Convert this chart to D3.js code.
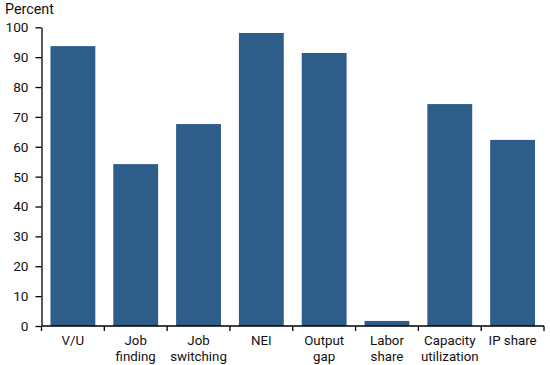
<!DOCTYPE html>
<html><head><meta charset="utf-8">
<script src="https://cdn.jsdelivr.net/npm/d3@7"></script>
<style>body{margin:0;background:#fff}svg{display:block}text{font-family:Roboto,"Liberation Sans",sans-serif;fill:#111}</style>
</head><body><svg id="c" width="550" height="365"></svg>
<script>
const categories = [["V/U"],["Job","finding"],["Job","switching"],["NEI"],["Output","gap"],["Labor","share"],["Capacity","utilization"],["IP share"]];
const values = [93.7, 54.2, 67.6, 98.1, 91.4, 1.7, 74.3, 62.3];
const yTicks = [0,10,20,30,40,50,60,70,80,90,100];

const svg = d3.select("#c");
const x0 = 41.5, x1 = 544, y0 = 326, y1 = 27.3;
const x = d3.scaleBand().domain(d3.range(categories.length)).range([x0, x1]).paddingInner(0.286).paddingOuter(0.143);
const y = d3.scaleLinear().domain([0,100]).range([y0, y1]);

svg.append("g").selectAll("rect").data(values).join("rect")
  .attr("x",(d,i)=>x(i)).attr("width",x.bandwidth())
  .attr("y",d=>y(d)).attr("height",d=>y0-y(d)).attr("fill","#2e5d8a");

// y axis
const ya = svg.append("g").attr("transform",`translate(${x0},0)`)
  .call(d3.axisLeft(y).tickValues(yTicks).tickSize(6).tickSizeOuter(0).tickPadding(7));
ya.select(".domain").attr("stroke","#000").attr("stroke-width",1.3);
ya.selectAll(".tick line").attr("stroke","#000").attr("stroke-width",1.3);
ya.selectAll(".tick text").style("font-size","13.6px").attr("fill","#111");

// x axis
const step = x.step();
const boundaries = d3.range(categories.length+1).map(i=>x0 + i*step);
const xa = svg.append("g");
xa.append("line").attr("x1",x0).attr("x2",x1).attr("y1",y0).attr("y2",y0).attr("stroke","#000").attr("stroke-width",1.3);
xa.selectAll("line.t").data(boundaries).join("line").attr("class","t")
  .attr("x1",d=>d).attr("x2",d=>d).attr("y1",y0).attr("y2",y0+5).attr("stroke","#000").attr("stroke-width",1.3);
xa.selectAll("text").data(categories).join("text")
  .attr("x",(d,i)=>x(i)+x.bandwidth()/2).attr("y",345)
  .attr("text-anchor","middle").style("font-size","13.3px")
  .each(function(d){
    d3.select(this).selectAll("tspan").data(d).join("tspan")
      .attr("x",d3.select(this).attr("x")).attr("dy",(t,j)=>j?15.5:0).text(t=>t);
  });

svg.append("text").attr("x",5).attr("y",14).style("font-size","14.3px").text("Percent");
</script></body></html>
